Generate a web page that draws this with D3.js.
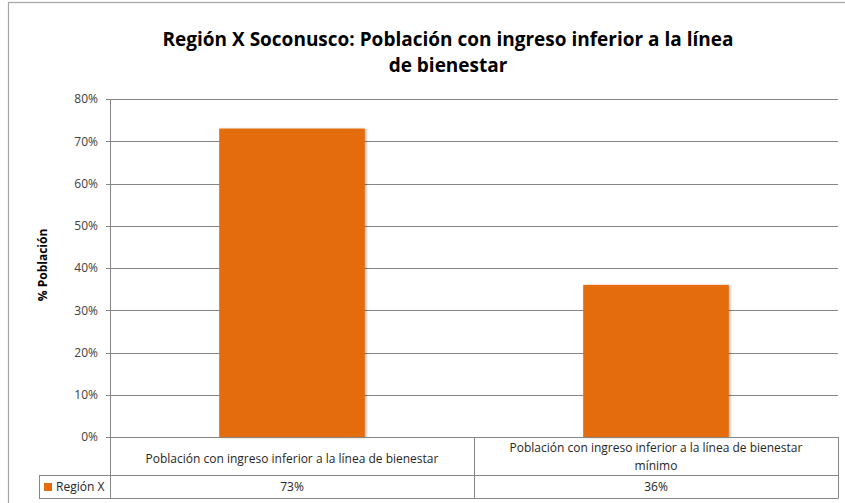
<!DOCTYPE html>
<html>
<head>
<meta charset="utf-8">
<script src="https://cdn.jsdelivr.net/npm/d3@7/dist/d3.min.js"></script>
<style>
  body { margin: 0; background: #fff; }
  svg text { font-family: "Open Sans", "Liberation Sans Narrow", sans-serif; }
</style>
</head>
<body>
<svg id="chart" width="845" height="503"></svg>
<script>
// chart data
var categories = [
    ["Población con ingreso inferior a la línea de bienestar"],
    ["Población con ingreso inferior a la línea de bienestar", "mínimo"]
];
var seriesName = "Región X";
var values = [73, 36];
var tableLabels = ["73%", "36%"];
var yTicks = [0, 10, 20, 30, 40, 50, 60, 70, 80];
var titleLines = ["Región X Soconusco: Población con ingreso inferior a la línea", "de bienestar"];
var yLabel = "% Población";

var svg = d3.select("#chart");
var margin = { left: 110, right: 838, top: 99, bottom: 437 };
var orange = "#e46c0a", grid = "#868686";

// outer frame of the chart area
svg.append("rect").attr("x", 8.5).attr("y", 2.5).attr("width", 850).attr("height", 520)
    .attr("fill", "none").attr("stroke", "#a6a6a6").attr("stroke-width", 1.2);

var x = d3.scaleBand().domain(d3.range(values.length))
    .range([margin.left, margin.right]).paddingInner(0.6).paddingOuter(0.3);
var y = d3.scaleLinear().domain([0, 80]).range([margin.bottom, margin.top]);

// gridlines
svg.append("g").selectAll("line").data(yTicks).join("line")
    .attr("x1", margin.left - 4).attr("x2", margin.right)
    .attr("y1", function (d) { return Math.round(y(d)) + 0.5; })
    .attr("y2", function (d) { return Math.round(y(d)) + 0.5; })
    .attr("stroke", grid).attr("stroke-width", 1);

// y axis labels
var yAxis = d3.axisLeft(y).tickValues(yTicks).tickSize(0).tickPadding(8)
    .tickFormat(function (d) { return d + "%"; });
svg.append("g").attr("transform", "translate(" + (margin.left - 4) + ",0)").call(yAxis)
    .call(function (g) {
        g.select(".domain").remove();
        g.selectAll("text").attr("font-size", 12).attr("fill", "#404040")
            .style("font-family", "'Open Sans', sans-serif");
    });

// bar shadow filter
var defs = svg.append("defs");
var f = defs.append("filter").attr("id", "shadow").attr("x", "-10%").attr("y", "-10%")
    .attr("width", "130%").attr("height", "130%");
f.append("feDropShadow").attr("dx", 1.5).attr("dy", 0.5).attr("stdDeviation", 1.2)
    .attr("flood-color", "#000").attr("flood-opacity", 0.3);

svg.append("g").selectAll("rect").data(values).join("rect")
    .attr("x", function (d, i) { return x(i); })
    .attr("width", x.bandwidth())
    .attr("y", function (d) { return y(d); })
    .attr("height", function (d) { return y(0) - y(d); })
    .attr("fill", orange).attr("filter", "url(#shadow)");

// y axis line
svg.append("line").attr("x1", margin.left + 0.5).attr("x2", margin.left + 0.5)
    .attr("y1", margin.top).attr("y2", 498).attr("stroke", grid);

// data table
var rowTop = margin.bottom, rowMid = 475.5, rowBot = 498.5;
var table = svg.append("g").attr("stroke", grid).attr("fill", "none");
table.append("line").attr("x1", margin.left).attr("x2", margin.right).attr("y1", rowTop + 0.5).attr("y2", rowTop + 0.5);
table.append("line").attr("x1", 39).attr("x2", margin.right).attr("y1", rowMid).attr("y2", rowMid);
table.append("line").attr("x1", 39).attr("x2", margin.right).attr("y1", rowBot).attr("y2", rowBot);
table.append("line").attr("x1", 39.5).attr("x2", 39.5).attr("y1", rowMid).attr("y2", rowBot);
var step = x.step();
table.selectAll("line.sep").data(d3.range(values.length + 1)).join("line").attr("class", "sep")
    .attr("x1", function (i) { return Math.round(margin.left + i * step) + 0.5; })
    .attr("x2", function (i) { return Math.round(margin.left + i * step) + 0.5; })
    .attr("y1", rowTop).attr("y2", rowBot);

var catText = svg.append("g").selectAll("text").data(categories).join("text")
    .attr("text-anchor", "middle").attr("font-size", 12).attr("fill", "#262626")
    .attr("x", function (d, i) { return x(i) + x.bandwidth() / 2; })
    .attr("y", function (d) { return d.length > 1 ? 452 : 463; });
catText.selectAll("tspan").data(function (d) { return d; }).join("tspan")
    .attr("x", function () { return d3.select(this.parentNode).attr("x"); })
    .attr("dy", function (d, i) { return i ? 18 : 0; })
    .text(function (d) { return d; });

svg.append("g").selectAll("text").data(tableLabels).join("text")
    .attr("text-anchor", "middle").attr("font-size", 12).attr("fill", "#262626")
    .attr("x", function (d, i) { return x(i) + x.bandwidth() / 2; })
    .attr("y", 491).text(function (d) { return d; });

// legend key in table
svg.append("rect").attr("x", 44).attr("y", 483).attr("width", 8).attr("height", 8).attr("fill", orange);
svg.append("text").attr("x", 56).attr("y", 491).attr("font-size", 12).attr("fill", "#262626").text(seriesName);

// title
svg.append("g").selectAll("text").data(titleLines).join("text")
    .attr("text-anchor", "middle").attr("x", 448)
    .attr("y", function (d, i) { return 46 + i * 26; })
    .attr("font-size", 19).attr("font-weight", "bold").attr("fill", "#000")
    .text(function (d) { return d; });

// y axis title
svg.append("text").attr("transform", "translate(47,265) rotate(-90)")
    .attr("text-anchor", "middle").attr("font-size", 12).attr("font-weight", "bold")
    .attr("fill", "#000").text(yLabel);
</script>
</body>
</html>
